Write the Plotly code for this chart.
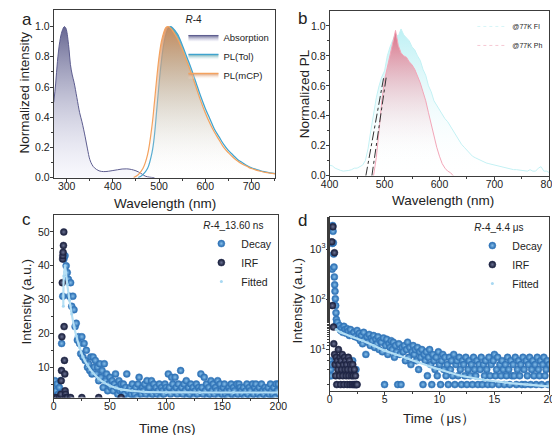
import plotly.graph_objects as go

# ---------------- Panel a data ----------------
abs_wl = [272, 276, 280, 285, 290, 295, 298, 300, 305, 308, 312, 316, 322, 328, 333, 340, 345, 350, 355, 360,
          370, 380, 390, 400, 410, 420, 430, 440, 450, 460, 470, 480, 490]
abs_val = [0.50, 0.62, 0.77, 0.90, 0.97, 1.00, 0.99, 0.97, 0.85, 0.75, 0.68, 0.63, 0.53, 0.43, 0.37, 0.27, 0.19, 0.12,
           0.085, 0.065, 0.045, 0.040, 0.042, 0.047, 0.052, 0.057, 0.058, 0.054, 0.045, 0.030, 0.010, 0.003, 0.0]

tol_wl = [455, 465, 475, 485, 490, 495, 500, 505, 510, 515, 520, 525, 530, 540, 550, 560, 570, 580, 590, 600, 610,
          620, 630, 640, 650, 660, 670, 680, 690, 700, 710, 720, 730, 740, 752]
tol_val = [0.0, 0.02, 0.06, 0.17, 0.28, 0.45, 0.62, 0.77, 0.88, 0.95, 0.99, 1.00, 0.99, 0.95, 0.88, 0.80, 0.72, 0.63,
           0.54, 0.46, 0.39, 0.32, 0.27, 0.22, 0.18, 0.15, 0.12, 0.10, 0.08, 0.065, 0.055, 0.045, 0.038, 0.032, 0.027]

mcp_wl = [445, 455, 465, 475, 485, 490, 495, 500, 505, 510, 515, 520, 525, 530, 540, 550, 560, 570, 580, 590, 600,
          610, 620, 630, 640, 650, 660, 670, 680, 690, 700, 710, 720, 730, 740, 752]
mcp_val = [0.0, 0.02, 0.06, 0.15, 0.35, 0.50, 0.66, 0.80, 0.90, 0.96, 0.995, 1.00, 0.99, 0.97, 0.92, 0.85, 0.77, 0.69,
           0.60, 0.51, 0.43, 0.36, 0.30, 0.25, 0.20, 0.165, 0.135, 0.11, 0.09, 0.075, 0.06, 0.05, 0.042, 0.035, 0.03,
           0.025]

# ---------------- Panel b data ----------------
fl_wl = list(range(400, 805, 5))
fl_val = [0.07, 0.065, 0.05, 0.04, 0.035, 0.03, 0.03, 0.035, 0.04, 0.05,
          0.05, 0.06, 0.07, 0.10, 0.18, 0.30, 0.42, 0.52, 0.60, 0.66,
          0.70, 0.80, 0.86, 0.90, 0.95, 0.93, 0.98, 0.94, 0.92, 0.90,
          0.86, 0.84, 0.80, 0.77, 0.71, 0.67, 0.60, 0.56, 0.50, 0.47,
          0.44, 0.41, 0.38, 0.36, 0.33, 0.30, 0.27, 0.24, 0.21, 0.19,
          0.17, 0.15, 0.13, 0.12, 0.11, 0.10, 0.09, 0.085, 0.08, 0.075,
          0.07, 0.065, 0.06, 0.055, 0.05, 0.05, 0.045, 0.04, 0.04, 0.038,
          0.035, 0.035, 0.03, 0.04, 0.03, 0.03, 0.05, 0.06, 0.03, 0.03,
          0.02]
ph_wl = [480, 485, 490, 495, 500, 505, 510, 515, 520, 525, 530, 535, 540, 545, 550, 555, 560, 565, 570, 575, 580,
         585, 590, 595, 600, 605, 610, 615, 620, 625]
ph_val = [0.0, 0.12, 0.30, 0.50, 0.64, 0.72, 0.80, 0.88, 0.97, 0.87, 0.82, 0.80, 0.79, 0.76, 0.74, 0.71, 0.67, 0.62,
          0.56, 0.50, 0.42, 0.34, 0.26, 0.19, 0.13, 0.08, 0.05, 0.03, 0.02, 0.0]
onset1_x = [466, 499]
onset1_y = [0.0, 0.667]
onset2_x = [477, 503]
onset2_y = [0.0, 0.656]

# ---------------- Panel c data ----------------
c_time = list(range(0, 201))
c_decay = [4, 6, 3, 5, 2, 4, 6,
           17, 31, 42, 43, 40, 38, 36, 31, 35, 28, 31, 27, 22, 23,
           18, 19, 17, 14, 19, 13, 17, 12, 15, 10,
           11, 9, 13, 8, 13, 10, 12, 8, 10, 6,
           11, 7, 9, 4, 11, 6, 8, 3, 5, 7,
           4, 6, 3, 5, 8, 4, 2, 6, 3, 5,
           3, 5, 2, 4, 8, 3, 1, 4, 2, 5,
           3, 2, 4, 1, 5, 7, 3, 2, 4, 3,
           5, 2, 6, 3, 4, 1, 6, 2, 5, 3,
           4, 2, 3, 5, 1, 4, 3, 2, 5, 4,
           3, 8, 4, 2, 7, 5, 3, 7, 4, 2,
           5, 3, 9, 4, 2, 5, 3, 6, 1, 4,
           2, 5, 3, 4, 1, 3, 5, 2, 4, 3,
           8, 4, 2, 7, 3, 5, 1, 4, 2, 6,
           3, 5, 2, 4, 3, 6, 1, 5, 3, 2,
           4, 5, 2, 3, 1, 4, 3, 5, 2, 4,
           3, 1, 5, 2, 5, 4, 3, 2, 4, 1,
           3, 5, 2, 4, 3, 1, 5, 2, 4, 5,
           3, 2, 4, 1, 5, 3, 2, 4, 3, 1,
           4, 2, 5, 3, 2, 4, 1, 5, 3, 5]
c_irf_t = [1, 3, 5, 6.3, 6.6, 6.9, 7.2, 7.6, 7.9, 8.1, 8.3, 8.6, 8.9, 9.2, 9.5, 9.8, 10.1, 10.5, 11, 12, 15, 25, 40, 60]
c_irf_v = [1, 1, 1, 2, 6, 9, 19, 35, 42, 43, 44, 46, 50, 22, 12, 8, 3, 2, 1, 1, 1, 1, 1, 1]
c_fit_t = [8.5, 9, 10, 12, 14, 16, 18, 20, 23, 26, 30, 35, 40, 45, 50, 55, 60, 70, 80, 100, 130, 160, 200]
c_fit_v = [28, 37, 40, 34.5, 29.8, 25.7, 22.2, 19.3, 15.8, 13, 10.6, 8.3, 6.6, 5.4, 4.5, 3.9, 3.4, 3.0, 2.7, 2.55,
           2.5, 2.5, 2.5]

# ---------------- Panel d data ----------------
d_head_t = [0.0, 0.05, 0.10, 0.15, 0.20, 0.23, 0.25, 0.28, 0.31, 0.34, 0.37, 0.40, 0.43, 0.46, 0.49, 0.52, 0.55,
            0.58, 0.61, 0.64, 0.67]
d_head_v = [3, 6, 4, 3, 5, 400, 1300, 2960, 2270, 1350, 800, 440, 280, 195, 145, 103, 75, 54, 40, 33, 31]
d_tail_start = 0.7
d_tail_step = 0.1
d_tail_v = [35, 28, 30, 24, 27, 22, 29, 25, 21, 26,
            23, 19, 25, 20, 6, 22, 18, 4, 24, 17,
            21, 15, 19, 13, 22, 16, 8, 18, 14, 20,
            12, 17, 15, 19, 11, 16, 13, 18, 10, 15,
            14, 9, 17, 2, 12, 16, 8, 13, 11, 15,
            10, 14, 7, 12, 9, 2, 13, 8, 2, 11,
            9, 12, 6, 10, 14, 7, 11, 5, 9, 12,
            8, 10, 6, 11, 4, 9, 7, 10, 2, 8,
            6, 9, 3, 7, 10, 5, 2, 8, 6, 4,
            7, 3, 9, 5, 2, 6, 8, 4, 7, 3,
            5, 2, 7, 4, 6, 3, 8, 2, 5, 6,
            3, 7, 4, 2, 6, 5, 3, 7, 2, 4,
            6, 3, 5, 2, 7, 4, 3, 6, 2, 5,
            4, 7, 2, 5, 3, 6, 4, 2, 7, 3,
            5, 2, 6, 8, 3, 4, 7, 2, 5, 3,
            6, 4, 2, 5, 3, 7, 4, 2, 6, 3,
            5, 3, 7, 2, 4, 6, 3, 5, 2, 7,
            4, 2, 6, 3, 5, 7, 2, 4, 6, 3,
            5, 2, 7, 4, 3, 6, 2, 5, 7, 3,
            4, 6, 2, 5]
d_tail_t = [round(d_tail_start + d_tail_step * i, 2) for i in range(len(d_tail_v))]
d_time = d_head_t + d_tail_t
d_decay = d_head_v + d_tail_v

d_irf_head_t = [0.20, 0.26, 0.30, 0.35, 0.38, 0.44]
d_irf_head_v = [1400, 75, 2800, 28, 13, 850]
d_irf_tail_start = 0.45
d_irf_tail_step = 0.05
d_irf_tail_v = [8, 5, 3, 7, 2, 6, 4, 10, 5, 3,
                7, 2, 6, 4, 8, 3, 5, 2, 7, 4,
                6, 3, 5, 2, 4, 7, 3, 6, 2, 5,
                4, 3, 2, 5, 3, 2, 4, 2, 3, 2,
                2, 2]
d_irf_tail_t = [round(d_irf_tail_start + d_irf_tail_step * i, 3) for i in range(len(d_irf_tail_v))]
d_irf_t = d_irf_head_t + d_irf_tail_t
d_irf_v = d_irf_head_v + d_irf_tail_v

d_fit_t = [0.6, 1, 2, 3, 4, 5, 6, 7, 8, 9, 10, 12, 14, 16, 18, 20]
d_fit_v = [25, 22, 18, 15, 12, 9.5, 8, 6.7, 5.6, 4.7, 4.0, 3.0, 2.5, 2.2, 2.0, 1.85]

# ---------------- Figure ----------------
FONT = "Arial, 'Liberation Sans', sans-serif"
W, H = 560, 435


def px(x):
    return x / W


def py(y):
    return 1 - y / H


fig = go.Figure()

# Panel a
fig.add_trace(go.Scatter(x=abs_wl, y=abs_val, name="Absorption", mode="lines", fill="tozeroy",
                         line=dict(color="#5d5d8f", width=1, shape="spline"),
                         fillgradient=dict(type="vertical", start=0, stop=1.0,
                                           colorscale=[[0, "rgba(235,235,250,0.3)"], [1, "rgba(95,95,140,0.95)"]]),
                         xaxis="x", yaxis="y", legend="legend"))
fig.add_trace(go.Scatter(x=tol_wl, y=tol_val, name="PL(Tol)", mode="lines", fill="tozeroy",
                         line=dict(color="#3fa3cf", width=1.2, shape="spline"),
                         fillgradient=dict(type="vertical", start=0, stop=1.0,
                                           colorscale=[[0, "rgba(255,255,255,0)"], [1, "rgba(80,160,170,0.9)"]]),
                         xaxis="x", yaxis="y", legend="legend"))
fig.add_trace(go.Scatter(x=mcp_wl, y=mcp_val, name="PL(mCP)", mode="lines", fill="tozeroy",
                         line=dict(color="#f4a25e", width=1.2, shape="spline"),
                         fillgradient=dict(type="vertical", start=0, stop=1.0,
                                           colorscale=[[0, "rgba(255,255,255,0)"], [1, "rgba(215,135,80,0.85)"]]),
                         xaxis="x", yaxis="y", legend="legend"))

# Panel b
fig.add_trace(go.Scatter(x=fl_wl, y=fl_val, name="@77K Fl", mode="lines", fill="tozeroy", showlegend=False,
                         line=dict(color="#c4f1f4", width=1),
                         fillgradient=dict(type="vertical", start=0, stop=1.0,
                                           colorscale=[[0, "rgba(255,255,255,0)"], [1, "rgba(150,232,238,0.65)"]]),
                         xaxis="x2", yaxis="y2"))
fig.add_trace(go.Scatter(x=ph_wl, y=ph_val, name="@77K Ph", mode="lines", fill="tozeroy", showlegend=False,
                         line=dict(color="#f2a6b8", width=1),
                         fillgradient=dict(type="vertical", start=0.1, stop=1.0,
                                           colorscale=[[0, "rgba(255,255,255,0)"], [1, "rgba(222,95,120,0.95)"]]),
                         xaxis="x2", yaxis="y2"))
fig.add_trace(go.Scatter(x=[None], y=[None], name="@77K Fl", mode="lines",
                         line=dict(color="#d6f5f7", width=1, dash="dot"), xaxis="x2", yaxis="y2", legend="legend2"))
fig.add_trace(go.Scatter(x=[None], y=[None], name="@77K Ph", mode="lines",
                         line=dict(color="#f6c8d3", width=1, dash="dot"), xaxis="x2", yaxis="y2", legend="legend2"))
fig.add_trace(go.Scatter(x=onset1_x, y=onset1_y, mode="lines", showlegend=False,
                         line=dict(color="#333333", width=1, dash="dashdot"), xaxis="x2", yaxis="y2"))
fig.add_trace(go.Scatter(x=onset2_x, y=onset2_y, mode="lines", showlegend=False,
                         line=dict(color="#333333", width=1, dash="dashdot"), xaxis="x2", yaxis="y2"))

DECAY = dict(color="#1f63aa", size=7, line=dict(color="#3f83c4", width=0.5),
             gradient=dict(type="radial", color="#86bfea"))
IRF = dict(color="#0f152d", size=7, line=dict(color="#2a3058", width=0.5),
           gradient=dict(type="radial", color="#6a7194"))
FIT = dict(color="#a8d8f2", size=3)

# Panel c
fig.add_trace(go.Scatter(x=c_time, y=c_decay, name="Decay", mode="markers", marker=DECAY,
                         xaxis="x3", yaxis="y3", legend="legend3"))
fig.add_trace(go.Scatter(x=c_irf_t, y=c_irf_v, name="IRF", mode="markers", marker=IRF,
                         xaxis="x3", yaxis="y3", legend="legend3"))
fig.add_trace(go.Scatter(x=c_fit_t, y=c_fit_v, mode="lines", showlegend=False,
                         line=dict(color="#b6e0f5", width=2.2, shape="spline"), xaxis="x3", yaxis="y3"))
fig.add_trace(go.Scatter(x=c_fit_t, y=c_fit_v, name="Fitted", mode="markers", marker=FIT,
                         xaxis="x3", yaxis="y3", legend="legend3"))

# Panel d
fig.add_trace(go.Scatter(x=d_time, y=d_decay, name="Decay", mode="markers", marker=DECAY,
                         xaxis="x4", yaxis="y4", legend="legend4"))
fig.add_trace(go.Scatter(x=d_irf_t, y=d_irf_v, name="IRF", mode="markers", marker=IRF,
                         xaxis="x4", yaxis="y4", legend="legend4"))
fig.add_trace(go.Scatter(x=d_fit_t, y=d_fit_v, mode="lines", showlegend=False,
                         line=dict(color="#b6e0f5", width=2.2, shape="spline"), xaxis="x4", yaxis="y4"))
fig.add_trace(go.Scatter(x=d_fit_t, y=d_fit_v, name="Fitted", mode="markers", marker=FIT,
                         xaxis="x4", yaxis="y4", legend="legend4"))

MINOR = dict(ticks="outside", ticklen=2, tickcolor="#3c3c3c", nticks=2)
AXX = dict(showline=True, mirror=True, linecolor="#3c3c3c", linewidth=1, ticks="outside", ticklen=3,
           tickcolor="#3c3c3c", showgrid=False, zeroline=False, tickfont=dict(size=10.5, color="#222"),
           ticklabelstandoff=-4)
AXY = dict(AXX, ticklabelstandoff=-2)

fig.update_layout(
    width=W, height=H, margin=dict(l=0, r=0, t=0, b=0), autosize=False,
    paper_bgcolor="white", plot_bgcolor="white",
    font=dict(family=FONT, color="#222"),
    xaxis=dict(AXX, domain=[px(38), px(267)], range=[272, 752], tickvals=[300, 400, 500, 600, 700], anchor="y",
               minor=dict(MINOR, tickvals=[350, 450, 550, 650, 750])),
    yaxis=dict(AXY, domain=[py(172), py(2)], range=[0, 1.11], tickvals=[0, 0.2, 0.4, 0.6, 0.8, 1.0],
               tickformat=".1f", anchor="x", minor=dict(MINOR, tickvals=[0.1, 0.3, 0.5, 0.7, 0.9])),
    xaxis2=dict(AXX, domain=[px(323), px(550)], range=[400, 800], dtick=100, anchor="y2",
                minor=dict(MINOR, tickvals=[450, 550, 650, 750])),
    yaxis2=dict(AXY, domain=[py(170), py(3)], range=[0, 1.1], tickvals=[0, 0.2, 0.4, 0.6, 0.8, 1.0],
                tickformat=".1f", anchor="x2", minor=dict(MINOR, tickvals=[0.1, 0.3, 0.5, 0.7, 0.9])),
    xaxis3=dict(AXX, domain=[px(38), px(270)], range=[0, 200], dtick=50, anchor="y3",
                minor=dict(MINOR, tickvals=[25, 75, 125, 175])),
    yaxis3=dict(AXY, domain=[py(395), py(210)], range=[1, 55], tickvals=[10, 20, 30, 40, 50], anchor="x3",
                minor=dict(MINOR, tickvals=[5, 15, 25, 35, 45])),
    xaxis4=dict(AXX, domain=[px(323), px(550)], range=[0, 20], dtick=5, anchor="y4",
                minor=dict(MINOR, tickvals=[2.5, 7.5, 12.5, 17.5])),
    yaxis4=dict(AXY, domain=[py(388), py(212)], type="log", range=[0.18, 3.64], tickvals=[10, 100, 1000],
                ticktext=["10<sup>1</sup>", "10<sup>2</sup>", "10<sup>3</sup>"], anchor="x4",
                minor=dict(ticks="outside", ticklen=2, tickcolor="#3c3c3c")),
    legend=dict(title=dict(text="<i>R</i>-4", font=dict(size=10)), font=dict(size=9.5), x=px(266), y=py(2),
                xanchor="right", yanchor="top", bgcolor="rgba(255,255,255,0)", itemwidth=30),
    legend2=dict(font=dict(size=7), x=px(549), y=py(4), xanchor="right", yanchor="top",
                 bgcolor="rgba(255,255,255,0)", itemwidth=30),
    legend3=dict(title=dict(text="<i>R</i>-4_13.60 ns", font=dict(size=10)), font=dict(size=10.5),
                 x=px(269), y=py(211), xanchor="right", yanchor="top", bgcolor="rgba(255,255,255,0)",
                 itemwidth=30),
    legend4=dict(title=dict(text="<i>R</i>-4_4.4 μs", font=dict(size=10)), font=dict(size=10.5),
                 x=px(549), y=py(213), xanchor="right", yanchor="top", bgcolor="rgba(255,255,255,0)",
                 itemwidth=30),
)

annots = [
    ("a", 10, 12, 17, 0), ("b", 295, 11, 17, 0), ("c", 10, 214, 17, 0), ("d", 295, 215, 17, 0),
    ("Normalized intensity", 8, 86, 13.5, -90), ("Wavelength (nm)", 153, 198, 13.5, 0),
    ("Normalized PL", 297, 87, 13.5, -90), ("Wavelength (nm)", 440, 195, 13.5, 0),
    ("Intensity (a.u.)", 10, 298, 13.5, -90), ("Time (ns)", 156, 426, 13.5, 0),
    ("Intensity (a.u.)", 290, 297, 13.5, -90), ("Time（μs）", 436, 416, 13.5, 0),
]
for text, x, y, size, ang in annots:
    fig.add_annotation(text=text, x=px(x), y=py(y), xref="paper", yref="paper", showarrow=False,
                       xanchor="center", yanchor="middle", textangle=ang, font=dict(size=size, color="#222"))

fig.write_html("out.html")
